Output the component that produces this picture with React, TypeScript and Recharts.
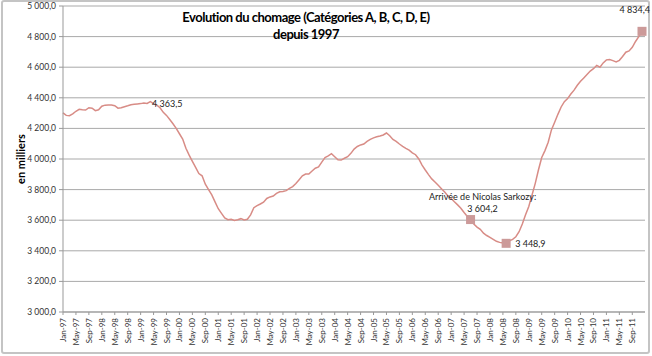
import React from 'react';
import { LineChart, Line, XAxis, YAxis, CartesianGrid } from 'recharts';

const years = ['97', '98', '99', '00', '01', '02', '03', '04', '05', '06', '07', '08', '09', '10', '11'];
const monthNames = ['Jan', 'Feb', 'Mar', 'Apr', 'May', 'Jun', 'Jul', 'Aug', 'Sep', 'Oct', 'Nov', 'Dec'];
const categories = years.flatMap((y) => monthNames.map((m) => `${m}-${y}`));

// chômage catégories A, B, C, D, E (milliers), Jan-97 .. Dec-11
const chomage = [
  4302, 4285, 4283, 4295, 4312, 4325, 4322, 4320, 4335, 4332, 4316, 4322,
  4345, 4352, 4353, 4353, 4348, 4332, 4335, 4342, 4348, 4355, 4358, 4360,
  4362, 4366, 4363.5, 4375, 4362, 4352, 4335, 4305, 4285, 4258, 4230, 4200,
  4165, 4130, 4070, 4025, 3985, 3945, 3905, 3890, 3835, 3800, 3765, 3720,
  3675, 3645, 3615, 3603, 3606, 3598, 3603, 3610, 3602, 3606, 3635, 3682,
  3695, 3706, 3718, 3742, 3752, 3758, 3775, 3786, 3787, 3793, 3808, 3820,
  3840, 3865, 3890, 3902, 3902, 3922, 3940, 3948, 3980, 4010, 4020, 4035,
  4015, 3995, 3993, 4005, 4015, 4037, 4065, 4082, 4092, 4098, 4115, 4128,
  4138, 4145, 4150, 4157, 4170, 4152, 4128, 4115, 4098, 4083, 4070, 4058,
  4040, 4028, 4000, 3960, 3928, 3898, 3870, 3850, 3828, 3806, 3784, 3758,
  3742, 3720, 3700, 3678, 3650, 3625, 3604.2, 3575, 3555, 3540, 3515, 3500,
  3488, 3475, 3462, 3455, 3451, 3448.9, 3465, 3475, 3492, 3525, 3575, 3635,
  3690, 3765, 3841, 3930, 4010, 4055, 4110, 4190, 4240, 4292, 4340, 4375,
  4395, 4425, 4450, 4482, 4508, 4530, 4552, 4575, 4590, 4612, 4600, 4628,
  4648, 4650, 4643, 4635, 4645, 4670, 4698, 4706, 4730, 4768, 4800, 4834.4,
];

const yTicks = [3000, 3200, 3400, 3600, 3800, 4000, 4200, 4400, 4600, 4800, 5000];
const markerIdx = [126, 137, 179];
const labelIdx = [26, 126, 137, 179];

const data = categories.map((c, i) => ({ month: c, value: chomage[i] }));

const fmt = (v: number, dec = 1) => {
  const s = v.toFixed(dec);
  const [int, frac] = s.split('.');
  const withSpace = int.replace(/\B(?=(\d{3})+(?!\d))/g, ' ');
  return `${withSpace},${frac}`;
};

const LINE = '#d88c86';
const MARK = '#cc9a99';
const FONT = 'Lato, "Open Sans", sans-serif';

const XTick = (props: any) => {
  const { x, y, payload } = props;
  return (
    <g transform={`translate(${x},${y})`}>
      <text x={0} y={0} dy={3} textAnchor="end" transform="rotate(-90)" fontSize={8} fill="#333" fontFamily={FONT}>
        {payload.value}
      </text>
    </g>
  );
};

const renderDot = (props: any) => {
  const { cx, cy, index } = props;
  if (!markerIdx.includes(index)) return <g key={`d${index}`} />;
  return <rect key={`d${index}`} x={cx - 4.5} y={cy - 4.5} width={9} height={9} fill={MARK} />;
};

const renderLabel = (props: any) => {
  const { x, y, index, value } = props;
  if (!labelIdx.includes(index)) return null;
  const txt = fmt(Number(value));
  const common = { fontSize: 9, fill: '#222', fontFamily: FONT } as any;
  if (index === 26) {
    return (
      <text key={`l${index}`} x={x + 5} y={y + 4} {...common}>
        {txt}
      </text>
    );
  }
  if (index === 126) {
    return (
      <g key={`l${index}`}>
        <text x={x + 12} y={y - 20} textAnchor="middle" {...common}>Arrivée de Nicolas Sarkozy:</text>
        <text x={x + 12} y={y - 8} textAnchor="middle" {...common}>{txt}</text>
      </g>
    );
  }
  if (index === 137) {
    return (
      <text key={`l${index}`} x={x + 9} y={y + 4} {...common}>
        {txt}
      </text>
    );
  }
  return (
    <text key={`l${index}`} x={x + 8} y={y - 18} textAnchor="end" {...common}>
      {txt}
    </text>
  );
};

export default function App() {
  return (
    <div style={{ position: 'absolute', left: 0, top: 0, width: 652, height: 356, background: '#fff', overflow: 'hidden' }}>
      <div
        style={{
          position: 'absolute',
          left: 1,
          top: 0,
          width: 649,
          height: 354,
          boxSizing: 'border-box',
          border: '2px solid #c4c4c4',
          borderRadius: 3,
        }}
      />
      <LineChart width={652} height={356} data={data} margin={{ top: 6, right: 7, bottom: 0, left: 0 }}>
        <CartesianGrid horizontal vertical={false} stroke="#a9a9a9" />
        <XAxis
          dataKey="month"
          interval={3}
          height={44}
          tick={<XTick />}
          tickSize={3}
          tickMargin={3}
          axisLine={{ stroke: '#999' }}
          tickLine={{ stroke: '#999' }}
          padding={{ left: 0, right: 3 }}
        />
        <YAxis
          width={63}
          domain={[3000, 5000]}
          ticks={yTicks}
          tickFormatter={(v: number) => fmt(v)}
          tick={{ fontSize: 8.5, fill: '#333', fontFamily: FONT }}
          tickSize={4}
          tickMargin={3}
          axisLine={{ stroke: '#999' }}
          tickLine={{ stroke: '#999' }}
        />
        <Line
          type="linear"
          dataKey="value"
          stroke={LINE}
          strokeWidth={1.5}
          dot={renderDot}
          activeDot={false}
          label={renderLabel}
          isAnimationActive={false}
        />
      </LineChart>
      <div
        style={{
          position: 'absolute',
          left: 106,
          top: 9,
          width: 400,
          textAlign: 'center',
          fontFamily: FONT,
          fontWeight: 700,
          fontSize: 13,
          letterSpacing: -0.5,
          lineHeight: '17px',
          color: '#000',
          pointerEvents: 'none',
        }}
      >
        Evolution du chomage (Catégories A, B, C, D, E)
        <br />
        depuis 1997
      </div>
      <div
        style={{
          position: 'absolute',
          left: 20,
          top: 159,
          transform: 'translate(-50%, -50%) rotate(-90deg)',
          fontFamily: FONT,
          fontWeight: 700,
          fontSize: 11,
          whiteSpace: 'nowrap',
          color: '#000',
        }}
      >
        en milliers
      </div>
    </div>
  );
}
